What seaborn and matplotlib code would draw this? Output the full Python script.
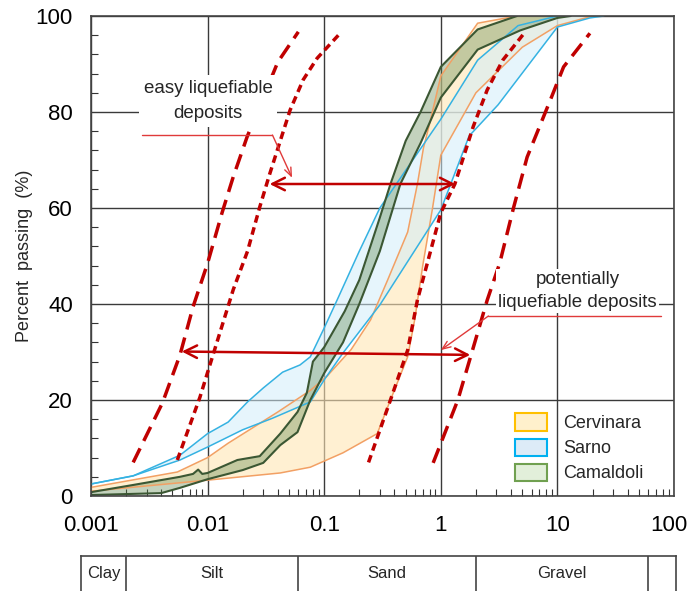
import numpy as np
import pandas as pd
import matplotlib
matplotlib.use("Agg")
import matplotlib.pyplot as plt
import matplotlib.transforms as mtransforms
import seaborn as sns
from matplotlib.patches import Patch
from matplotlib.ticker import FixedLocator, LogLocator, NullFormatter, NullLocator

# grain size curves: diameter (mm) and percent passing
cerv_up_d = [0.001, 0.0055, 0.01, 0.015, 0.04, 0.076, 0.106, 0.17, 0.25, 0.35, 0.52, 0.63, 0.71, 0.81, 1.0, 2.07, 4.5]
cerv_up_p = [1.8, 5, 8, 11, 17.5, 22, 25, 30.5, 36.7, 45, 55, 65, 72.5, 78, 87.5, 98.5, 100]
cerv_lo_d = [0.001, 0.01, 0.042, 0.076, 0.145, 0.285, 0.37, 0.52, 0.6, 0.7, 0.85, 1.0, 2.0, 5.0, 10, 20]
cerv_lo_p = [1.0, 3.3, 4.8, 6, 9, 13, 20, 29, 37, 48, 60, 71, 84, 93.5, 98, 100]

sarno_up_d = [0.001, 0.0023, 0.0058, 0.01, 0.015, 0.022, 0.03, 0.044, 0.062, 0.076, 0.1, 0.13, 0.2, 0.3, 1.0, 2.07, 4.6, 10]
sarno_up_p = [2.5, 4.2, 8.5, 13, 15.4, 19.6, 22.5, 25.8, 27.3, 29, 35, 41, 51, 60, 78.5, 90.8, 98, 100]
sarno_lo_d = [0.001, 0.0023, 0.0058, 0.01, 0.02, 0.036, 0.076, 0.1, 0.145, 0.3, 1.0, 1.75, 3.1, 10, 19, 25]
sarno_lo_p = [2.5, 4.2, 7.5, 10.2, 13.8, 16.2, 19.6, 24.2, 29.8, 39.8, 59.6, 75, 81.5, 97.7, 99.6, 100]

cam_up_d = [0.001, 0.0023, 0.0058, 0.0075, 0.0083, 0.009, 0.01, 0.018, 0.028, 0.042, 0.059, 0.071, 0.08, 0.1,
            0.15, 0.2, 0.3, 0.37, 0.5, 0.67, 1.0, 2.07, 4.5]
cam_up_p = [0.8, 2.3, 4.0, 4.6, 5.5, 4.6, 4.8, 7.5, 8.3, 13, 17.5, 21.5, 28, 31,
            38.5, 45, 58, 65, 74, 80, 89.4, 97.2, 100]
cam_lo_d = [0.001, 0.004, 0.0058, 0.01, 0.02, 0.03, 0.042, 0.059, 0.076, 0.1, 0.145, 0.2, 0.3, 0.45, 0.67,
            1.0, 2.07, 4.8, 10, 13]
cam_lo_p = [0.2, 0.6, 1.7, 3.5, 5.4, 6.9, 10.6, 13.3, 20, 25.6, 32, 40, 51, 65, 73.5,
            83, 93, 97, 99.6, 100]

# liquefaction boundaries (red dashed)
easy_left_d = [0.0023, 0.0041, 0.0058, 0.0075, 0.01, 0.0133, 0.0166, 0.0218, 0.03, 0.04, 0.06]
easy_left_p = [7, 19.4, 29.4, 39.4, 48.5, 59, 66.5, 74.8, 83, 90.4, 96.7]
easy_right_d = [0.0055, 0.0086, 0.011, 0.0166, 0.022, 0.028, 0.034, 0.042, 0.051, 0.066, 0.087, 0.137]
easy_right_p = [7.5, 20.6, 29, 43, 51, 60.2, 67, 74, 80.4, 86.7, 91.2, 96.4]
pot_left_d = [0.24, 0.37, 0.52, 0.63, 1.0, 1.32, 1.9, 2.5, 3.4, 5.3]
pot_left_p = [7, 20, 30.4, 40.8, 59, 65, 77, 84.6, 90.8, 96.7]
pot_right_d = [0.86, 1.4, 1.8, 2.5, 3.2, 4.2, 5.5, 8.7, 11.3, 19]
pot_right_p = [6.9, 20, 29, 40.8, 48.5, 60, 70.6, 82.5, 89.4, 96.4]

sites = ["Cervinara", "Sarno", "Camaldoli"]
x_ticks = [0.001, 0.01, 0.1, 1, 10, 100]
x_ticklabels = ["0.001", "0.01", "0.1", "1", "10", "100"]
class_bounds = [0.00082, 0.002, 0.06, 2, 60, 105]
class_names = ["Clay", "Silt", "Sand", "Gravel"]

sns.set_theme(style="white")
plt.rcParams["font.family"] = ["Liberation Sans", "DejaVu Sans"]

fig = plt.figure(figsize=(6.89, 5.91), dpi=100)
fig.patch.set_facecolor("white")
ax = fig.add_axes([91 / 689, 95 / 591, 583 / 689, 480 / 591])
ax.set_xscale("log")


def band(d_up, p_up, d_lo, p_lo, face, alpha, edge, lw):
    # filled envelope between the two boundary curves
    xs = list(d_up) + list(d_lo)[::-1]
    ys = list(p_up) + list(p_lo)[::-1]
    ax.fill(xs, ys, color=face, alpha=alpha, lw=0, zorder=1)
    for d, p in [(d_up, p_up), (d_lo, p_lo)]:
        sns.lineplot(x=d, y=p, sort=False, estimator=None, ax=ax, color=edge, lw=lw, zorder=2)


band(cerv_up_d, cerv_up_p, cerv_lo_d, cerv_lo_p, "#FFE6B5", 0.6, "#F2A064", 1.1)
band(sarno_up_d, sarno_up_p, sarno_lo_d, sarno_lo_p, "#D3EEFA", 0.55, "#35B2E2", 1.1)
band(cam_up_d, cam_up_p, cam_lo_d, cam_lo_p, "#5A8448", 0.36, "#3B5733", 1.5)

red = "#C00000"
for d, p, dash in [(easy_left_d, easy_left_p, (4.5, 2.4)), (easy_right_d, easy_right_p, (2.2, 1.4)),
                   (pot_left_d, pot_left_p, (2.2, 1.4)), (pot_right_d, pot_right_p, (4.5, 2.4))]:
    sns.lineplot(x=d, y=p, sort=False, estimator=None, ax=ax, color=red, lw=2.5,
                 linestyle=(0, dash), zorder=3)

# double arrows showing the ranges
arrow_kw = dict(arrowstyle="<->,head_length=0.5,head_width=0.25", color=red, lw=1.8,
                mutation_scale=18, shrinkA=0, shrinkB=0)
ax.annotate("", xy=(0.034, 65), xytext=(1.33, 65), arrowprops=arrow_kw, zorder=4)
ax.annotate("", xy=(0.006, 30.1), xytext=(1.79, 29.4), arrowprops=arrow_kw, zorder=4)

# labels with leader lines
lead = "#E03A3A"
ax.text(0.0101, 82.3, "easy liquefiable\ndeposits", ha="center", va="center", fontsize=13.5,
        linespacing=1.6, zorder=6, bbox=dict(boxstyle="square,pad=0.25", fc="white", ec="none"))
ax.plot([0.00274, 0.036], [75.2, 75.2], color=lead, lw=1, zorder=6)
ax.annotate("", xy=(0.053, 66.3), xytext=(0.036, 75.2), zorder=6,
            arrowprops=dict(arrowstyle="->,head_length=0.5,head_width=0.2", color=lead, lw=1,
                            shrinkA=0, shrinkB=0, mutation_scale=12))

ax.text(14.85, 42.7, "potentially\nliquefiable deposits", ha="center", va="center", fontsize=13.5,
        linespacing=1.5, zorder=6, bbox=dict(boxstyle="square,pad=0.1", fc="white", ec="none"))
ax.plot([2.56, 76.6], [37.5, 37.5], color=lead, lw=1, zorder=6)
ax.annotate("", xy=(1.0, 30.4), xytext=(2.56, 37.5), zorder=6,
            arrowprops=dict(arrowstyle="->,head_length=0.5,head_width=0.2", color=lead, lw=1,
                            shrinkA=0, shrinkB=0, mutation_scale=12))

# axes styling
ax.set_xlim(0.001, 100)
ax.set_ylim(0, 100)
ax.set_xticks(x_ticks)
ax.set_xticklabels(x_ticklabels)
ax.xaxis.set_minor_locator(LogLocator(base=10, subs=np.arange(2, 10) * 1.0, numticks=20))
ax.xaxis.set_minor_formatter(NullFormatter())
ax.set_yticks(range(0, 101, 20))
ax.yaxis.set_minor_locator(FixedLocator([v for v in range(0, 101, 4) if v % 20]))
ax.tick_params(which="major", length=0, labelsize=16, colors="black")
ax.tick_params(axis="x", which="major", pad=14)
ax.tick_params(axis="y", which="major", pad=13)
ax.tick_params(which="minor", direction="in", length=5, width=0.8, color="#333333",
               bottom=True, left=True, top=False, right=False)
ax.grid(True, which="major", color="#3a3a3a", lw=1.0, zorder=0.5)
ax.set_axisbelow(True)
for s in ax.spines.values():
    s.set_color("#444444")
    s.set_linewidth(1.2)
ax.set_xlabel("")
ax.set_ylabel("Percent  passing  (%)", fontsize=13)
ax.yaxis.set_label_coords(-0.1, 0.5)

# last x label sits at the figure edge, nudge it inwards a little
last = ax.get_xticklabels()[-1]
last.set_transform(last.get_transform() + mtransforms.ScaledTranslation(-4 / 72, 0, fig.dpi_scale_trans))

handles = [Patch(facecolor="#FFF0CC", edgecolor="#FFC000", lw=1.5, label=sites[0]),
           Patch(facecolor="#DDEBF7", edgecolor="#00B0F0", lw=1.5, label=sites[1]),
           Patch(facecolor="#E2EFDA", edgecolor="#70A050", lw=1.5, label=sites[2])]
ax.legend(handles=handles, loc="upper left", bbox_to_anchor=(0.727, 0.172), frameon=False,
          fontsize=13, handlelength=1.8, handleheight=1.1, handletextpad=0.9,
          labelspacing=0.35, borderpad=0, borderaxespad=0)

# soil classification strip under the chart
bx = fig.add_axes([81 / 689, 0, 595 / 689, 35 / 591])
bx.set_xscale("log")
bx.set_xlim(class_bounds[0], class_bounds[-1])
bx.set_ylim(0, 1)
bx.xaxis.set_major_locator(NullLocator())
bx.xaxis.set_minor_locator(NullLocator())
bx.set_yticks([])
bx.spines["bottom"].set_visible(False)
for s in ["left", "right", "top"]:
    bx.spines[s].set_color("#444444")
    bx.spines[s].set_linewidth(1.2)
for b in class_bounds[1:-1]:
    bx.axvline(b, color="#444444", lw=1.2)
for lo, hi, name in zip(class_bounds[:-1], class_bounds[1:], class_names):
    bx.text(np.sqrt(lo * hi), 0.5, name, ha="center", va="center", fontsize=12)

fig.savefig("out.png", dpi=100, facecolor="white")
